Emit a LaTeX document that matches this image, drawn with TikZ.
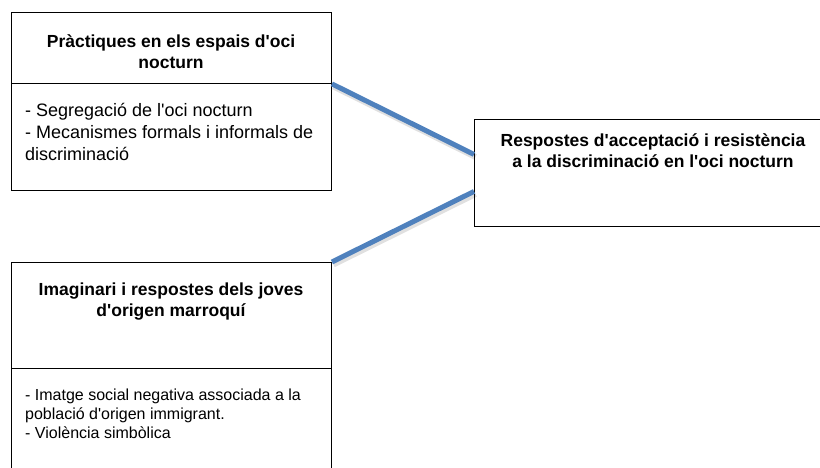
\documentclass[tikz,border=0pt]{standalone}
\usepackage{fontspec}
\setmainfont{Liberation Sans}
\usetikzlibrary{positioning}
\newcommand{\ap}{\textquotesingle}

\tikzset{
  caixa/.style={draw, line width=0.9pt, rectangle, anchor=north west, inner sep=0pt, minimum width=320pt},
  titol/.style={font=\fontsize{17.5}{21}\selectfont\bfseries, align=center, inner sep=0pt},
  llista/.style={font=\fontsize{18}{22}\selectfont, align=left, anchor=west, inner sep=0pt},
  connector/.style={line width=5pt, color={rgb,255:red,79;green,129;blue,189}},
  ombra/.style={line width=6pt, color=black, opacity=.12}
}

\begin{document}
\begin{tikzpicture}[x=1pt,y=-1pt]
\useasboundingbox (0,0) rectangle (820,468);
\begin{scope}
% caixes de l'esquerra
\node[caixa, minimum height=71pt] (practiques) at (11,12) {};
\node[caixa, minimum height=107pt] (practiquesCos) at (11,83) {};
\node[caixa, minimum height=106pt] (imaginari) at (11,262) {};
\node[caixa, minimum height=120pt] (imaginariCos) at (11,368) {};
% caixa de la dreta
\node[caixa, minimum width=360pt, minimum height=107pt] (respostes) at (474,119) {};
%\draw[help lines] (0,0) grid (820,468);
\end{scope}

\node[titol] (tPractiques) at (171,52) {Pràctiques en els espais d\ap oci\\nocturn};
\node[llista] (lPractiques) at (25,132) {- Segregació de l\ap oci nocturn\\- Mecanismes formals i informals de\\discriminació};
\node[titol] (tRespostes) at (653,151) {Respostes d\ap acceptació i resistència\\a la discriminació en l\ap oci nocturn};
\node[titol] (tImaginari) at (171,302) {Imaginari i respostes dels joves\\d\ap origen marroquí};
\node[llista, font=\fontsize{16}{19}\selectfont] (lImaginari) at (25,414) {- Imatge social negativa associada a la\\població d\ap origen immigrant.\\- Violència simbòlica};

\coordinate (entradaA) at ([yshift=18.5pt]respostes.west);
\coordinate (entradaB) at ([yshift=-18.5pt]respostes.west);
\draw[ombra, transform canvas={xshift=1.5pt, yshift=-2.5pt}] (practiques.south east) -- (entradaA);
\draw[ombra, transform canvas={xshift=1.5pt, yshift=-2.5pt}] (imaginari.north east) -- (entradaB);
\draw[connector] (practiques.south east) -- (entradaA);
\draw[connector] (imaginari.north east) -- (entradaB);
\end{tikzpicture}
\end{document}
